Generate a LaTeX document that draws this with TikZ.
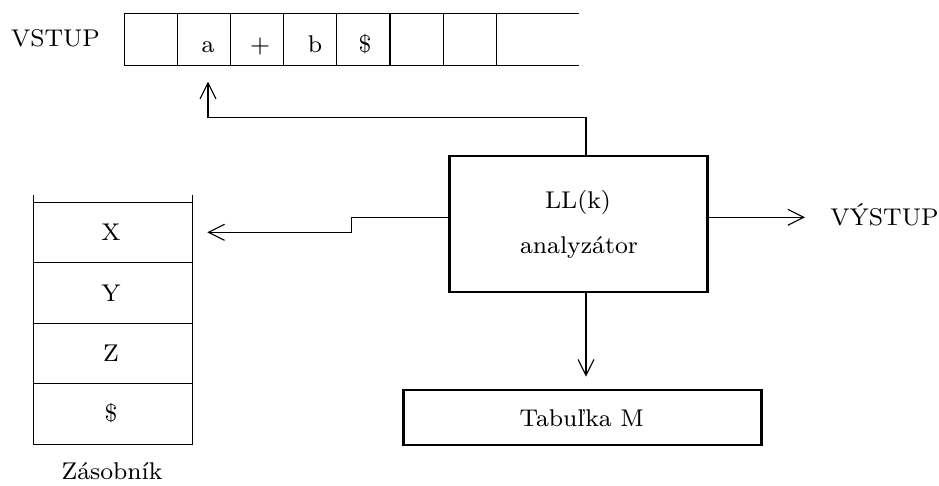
\documentclass[tikz,border=0pt]{standalone}
\usepackage{fontspec}
\setmainfont{lmroman8-regular.otf}
\usetikzlibrary{arrows.meta,calc}
\begin{document}
\begin{tikzpicture}[x=0.5pt,y=-0.5pt,
  thin line/.style={line width=0.55pt},
  arr/.style={line width=0.55pt,-{Straight Barb[length=8pt,width=8pt,line width=0.55pt]}},
  mainbox/.style={draw,line width=1.35pt,inner sep=0pt},
  lbl/.style={font=\fontsize{12.1}{15}\selectfont,inner sep=0pt,anchor=base}]
\useasboundingbox (0,0) rectangle (939,486);

% input tape
\draw[thin line] (578.5,13.3) -- (124.5,13.3) -- (124.5,65.3) -- (578.5,65.3);
\foreach \x in {177.4,230.6,283.9,336.8,390,443.3,496.2}
  \draw[thin line] (\x,13.3) -- (\x,65.3);
\node[lbl,anchor=base west] (vstup) at (10.7,46.5) {VSTUP};
\node[lbl] (ca) at (208,53) {a};
\node[lbl] (cplus) at (260,53) {+};
\node[lbl] (cb) at (315,53) {b};
\node[lbl] (cdollar) at (365,53) {\$};
\coordinate (tapeTip) at (208,81.7);

% analyzer
\node[mainbox,minimum width=129.2pt,minimum height=68pt] (ana) at (578.5,224) {};
\node[lbl] (ll) at (578,209) {LL(k)};
\node[lbl] (anl) at (579,254) {analyzátor};

% output
\node[lbl,anchor=base west] (vystup) at (830,226) {VÝSTUP};
\coordinate (outTip) at (805,217.3);

% table
\node[mainbox,minimum width=179.1pt,minimum height=27.5pt] (tab) at (582.4,417.5) {};
\node[lbl] (tabtxt) at (581.7,427) {Tabuľka M};

% stack
\draw[thin line] (33.3,195) -- (33.3,444.3) -- (192.7,444.3) -- (192.7,195);
\foreach \y in {202.3,262.7,323.3,383.3}
  \draw[thin line] (33.3,\y) -- (192.7,\y);
\node[lbl] (sx) at (111,241) {X};
\node[lbl] (sy) at (111,301.7) {Y};
\node[lbl] (sz) at (111,361.7) {Z};
\node[lbl] (sd) at (111,421.7) {\$};
\node[lbl] (zas) at (112,480) {Zásobník};
\coordinate (stackTip) at (207.3,232.3);
\coordinate (stepx) at (351.7,0);
\coordinate (topx) at (586,0);

% connectors
\draw[arr] (ana.north -| topx) -- ++(0,-37) -| (tapeTip);
\draw[arr] (ana.west |- 0,217.3) -- (stepx |- 0,217.3) -- (stepx |- stackTip) -- (stackTip);
\draw[arr] (ana.east |- outTip) -- (outTip);
\draw[arr] (ana.south -| topx) -- (topx |- 0,376.7);
\end{tikzpicture}
\end{document}
